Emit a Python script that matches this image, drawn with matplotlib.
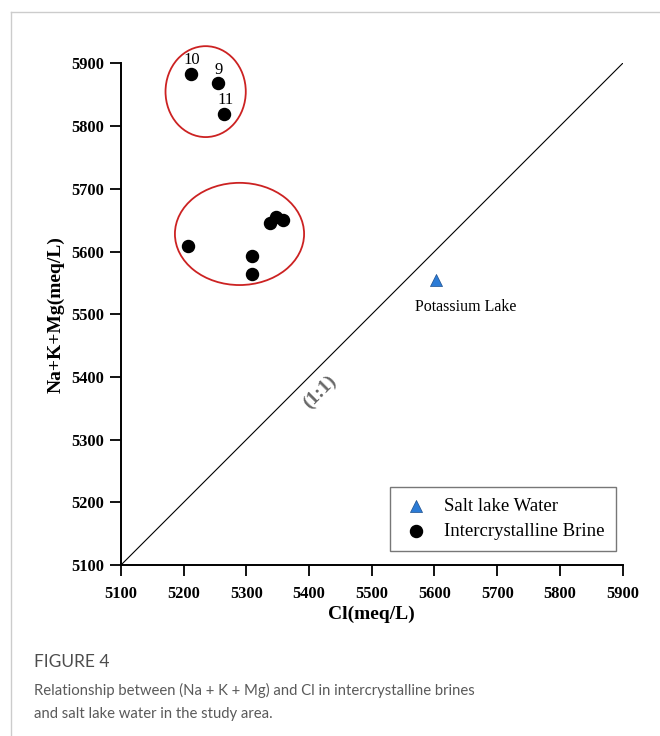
import matplotlib
matplotlib.use("Agg")
import matplotlib.pyplot as plt
from matplotlib.patches import Ellipse
from matplotlib.lines import Line2D

# Intercrystalline brine samples (Cl, Na+K+Mg) in meq/L
brine_cl = [5212, 5255, 5265, 5207, 5309, 5309, 5338, 5348, 5359]
brine_cat = [5883, 5868, 5820, 5609, 5593, 5564, 5646, 5655, 5650]
brine_ids = ["10", "9", "11", "", "", "", "", "", ""]

# Salt lake water
lake_cl = [5602]
lake_cat = [5554]

# groups circled in red: (center x, center y, width, height)
groups = [(5235, 5855, 128, 145), (5289, 5628, 206, 163)]

ticks = [5100, 5200, 5300, 5400, 5500, 5600, 5700, 5800, 5900]

W, H = 660, 736
fig = plt.figure(figsize=(W / 100, H / 100), dpi=100)
ax = fig.add_axes([121 / W, 1 - 565 / H, (622.6 - 121) / W, (565 - 63.4) / H])

serif = "Liberation Serif"

# 1:1 line
ax.plot([5100, 5900], [5100, 5900], color="black", linewidth=0.8, zorder=1)
ax.text(5417, 5376, "(1:1)", rotation=45, ha="center", va="center",
        fontsize=14, fontweight="bold", family=serif, color="#666666")

for cx, cy, w, h in groups:
    ax.add_patch(Ellipse((cx, cy), w, h, fill=False, edgecolor="#cc2222",
                         linewidth=1.3, clip_on=False))

ax.scatter(brine_cl, brine_cat, s=75, color="black", zorder=3,
           label="Intercrystalline Brine")
ax.scatter(lake_cl, lake_cat, marker="^", s=75, color="#2b7bd6",
           edgecolors="#1d4f8c", linewidths=0.5, zorder=3, label="Salt lake Water")

for x, y, t in zip(brine_cl, brine_cat, brine_ids):
    if t:
        ax.text(x + 1, y + 22, t, ha="center", va="center", fontsize=12,
                family=serif, clip_on=False)

ax.text(lake_cl[0] + 47, lake_cat[0] - 42, "Potassium Lake", ha="center", va="center",
        fontsize=11.5, family=serif)

ax.set_xlim(5100, 5900)
ax.set_ylim(5100, 5900)
ax.set_xticks(ticks)
ax.set_yticks(ticks)
for lab in ax.get_xticklabels() + ax.get_yticklabels():
    lab.set_family(serif)
    lab.set_fontweight("bold")
    lab.set_fontsize(11.8)
ax.tick_params(direction="out", length=8, width=1.3)
ax.tick_params(axis="x", pad=7)
ax.tick_params(axis="y", pad=4)
ax.spines["top"].set_visible(False)
ax.spines["right"].set_visible(False)
ax.spines["left"].set_linewidth(1.4)
ax.spines["bottom"].set_linewidth(1.4)

ax.set_xlabel("Cl(meq/L)", fontsize=14, fontweight="bold", family=serif, labelpad=3)
ax.set_ylabel("Na+K+Mg(meq/L)", fontsize=14, fontweight="bold", family=serif, labelpad=5)

handles, labels = ax.get_legend_handles_labels()
leg = ax.legend(handles[::-1], labels[::-1], loc="lower right",
                bbox_to_anchor=(0.987, 0.028), fancybox=False, framealpha=1,
                edgecolor="#777777", prop={"family": serif, "size": 13.5},
                handletextpad=0.7, borderpad=0.6, labelspacing=0.4,
                borderaxespad=0, handlelength=1.6, scatterpoints=1)
leg.get_frame().set_linewidth(1.0)

# page frame lines
fig.add_artist(Line2D([11 / W, 1], [1 - 12 / H, 1 - 12 / H], color="#cccccc", linewidth=1))
fig.add_artist(Line2D([11 / W, 11 / W], [0, 1 - 12 / H], color="#cccccc", linewidth=1))

cap = "Lato"
fig.text(34 / W, 1 - 662 / H, "FIGURE 4", fontsize=12.5, family=cap, color="#4d4d4d",
         va="center", ha="left")
fig.text(34 / W, 1 - 690 / H,
         "Relationship between (Na + K + Mg) and Cl in intercrystalline brines",
         fontsize=10.7, family=cap, color="#5a5a5a", va="center", ha="left")
fig.text(34 / W, 1 - 714 / H, "and salt lake water in the study area.",
         fontsize=10.7, family=cap, color="#5a5a5a", va="center", ha="left")

fig.savefig("out.png", dpi=100)
